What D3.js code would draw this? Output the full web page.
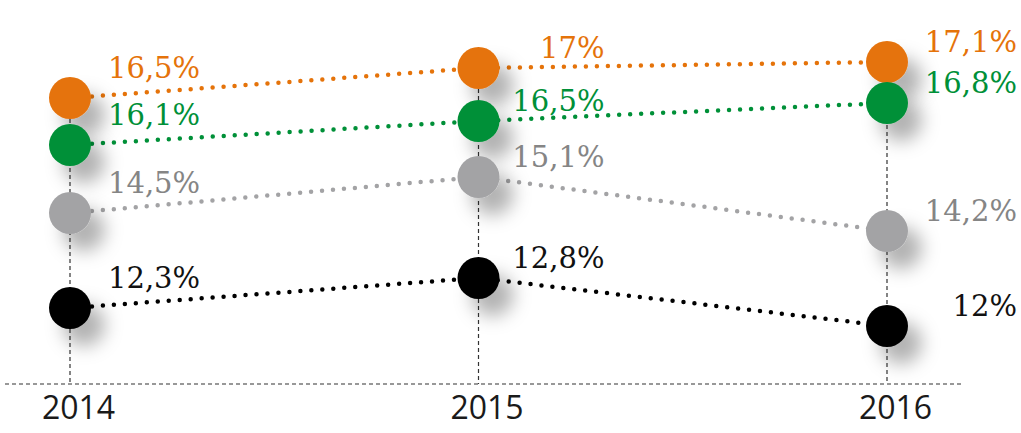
<!DOCTYPE html>
<html>
<head>
<meta charset="utf-8">
<script src="https://cdn.jsdelivr.net/npm/d3@7"></script>
<style>
  body { margin: 0; background: #fff; }
  svg { display: block; }
  .label { font-family: "DejaVu Serif", serif; font-size: 29px; }
  .year text { font-family: "Open Sans", sans-serif; font-size: 32px; fill: #1a1a1a; }
</style>
</head>
<body>
<script>
// data
const years = ['2014', '2015', '2016'];
const seriesNames = ['orange', 'green', 'grey', 'black'];
const orangeValues = [16.5, 17, 17.1];
const greenValues = [16.1, 16.5, 16.8];
const greyValues = [14.5, 15.1, 14.2];
const blackValues = [12.3, 12.8, 12];

const colors = { orange: '#e5730a', green: '#009038', grey: '#a3a3a5', black: '#000000' };
const textColors = { orange: '#e5730a', green: '#009038', grey: '#858585', black: '#111111' };

const series = [
  { name: 'orange', values: orangeValues },
  { name: 'green', values: greenValues },
  { name: 'grey', values: greyValues },
  { name: 'black', values: blackValues }
];

const width = 1021;
const height = 433;
const baseY = 384;
const r = 21;

const svg = d3.select('body')
  .append('svg')
  .attr('width', width)
  .attr('height', height);

// soft shadow under the dots
const defs = svg.append('defs');
const f = defs.append('filter')
  .attr('id', 'shadow')
  .attr('x', '-80%').attr('y', '-80%')
  .attr('width', '300%').attr('height', '300%');
f.append('feDropShadow')
  .attr('dx', 14).attr('dy', 17)
  .attr('stdDeviation', 9)
  .attr('flood-color', '#000')
  .attr('flood-opacity', 0.3);

const x = d3.scalePoint()
  .domain(years)
  .range([70, 887]);

// each series sits in its own row (the original is not to scale),
// values move the dot up/down around the row's centre
const rowY = d3.scaleOrdinal()
  .domain(seriesNames)
  .range([76, 123, 207, 304]);

const yDelta = d3.scaleLinear()
  .domain([-1, 1])
  .range([60, -60]);

const yOf = (s, v) => rowY(s.name) + yDelta(v - d3.mean(s.values));

// baseline
svg.append('line')
  .attr('x1', 5).attr('x2', 963)
  .attr('y1', baseY).attr('y2', baseY)
  .attr('stroke', '#333')
  .attr('stroke-width', 1.2)
  .attr('stroke-dasharray', '4 3');

// vertical guides
svg.selectAll('.guide')
  .data(years)
  .enter()
  .append('line')
  .attr('class', 'guide')
  .attr('x1', d => x(d)).attr('x2', d => x(d))
  .attr('y1', (d, i) => d3.min(series, s => yOf(s, s.values[i])))
  .attr('y2', baseY)
  .attr('stroke', '#333')
  .attr('stroke-width', 1.2)
  .attr('stroke-dasharray', '4 3');

// year labels
const xAxis = d3.axisBottom(x).tickSize(0).tickPadding(0);
svg.append('g')
  .attr('class', 'year')
  .attr('transform', `translate(8, ${baseY + 12})`)
  .call(xAxis)
  .call(g => g.select('.domain').remove());

// dotted lines
svg.selectAll('.series-line')
  .data(series)
  .enter()
  .append('path')
  .attr('class', 'series-line')
  .attr('d', s => d3.line()
    .x((d, i) => x(years[i]))
    .y(d => yOf(s, d))(s.values))
  .attr('fill', 'none')
  .attr('stroke', d => colors[d.name])
  .attr('stroke-width', 4.5)
  .attr('stroke-linecap', 'round')
  .attr('stroke-dasharray', '0 11');

// dots
const pts = series.flatMap(s => s.values.map((v, i) => ({ s, name: s.name, year: years[i], i, v })));

svg.selectAll('.dot')
  .data(pts)
  .enter()
  .append('circle')
  .attr('class', 'dot')
  .attr('cx', d => x(d.year))
  .attr('cy', d => yOf(d.s, d.v))
  .attr('r', r)
  .attr('fill', d => colors[d.name])
  .attr('filter', 'url(#shadow)');

// value labels
const labelPos = [
  { dx: 38, dy: -20, anchor: 'start' },
  { dx: 126, dy: -10, anchor: 'end' },
  { dx: 130, dy: -10, anchor: 'end' }
];

svg.selectAll('.label')
  .data(pts)
  .enter()
  .append('text')
  .attr('class', 'label')
  .attr('x', d => x(d.year) + labelPos[d.i].dx)
  .attr('y', d => yOf(d.s, d.v) + labelPos[d.i].dy)
  .attr('text-anchor', d => labelPos[d.i].anchor)
  .attr('fill', d => textColors[d.name])
  .text(d => String(d.v).replace('.', ',') + '%');
</script>
</body>
</html>
